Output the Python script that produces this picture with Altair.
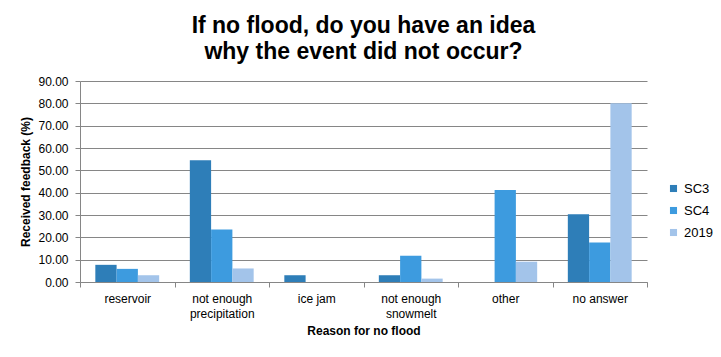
import altair as alt
import pandas as pd

categories = ["reservoir", "not enough precipitation", "ice jam",
              "not enough snowmelt", "other", "no answer"]
series = ["SC3", "SC4", "2019"]
sc3 = [7.69, 54.55, 3.03, 3.03, 0.0, 30.30]
sc4 = [5.88, 23.53, 0.0, 11.76, 41.18, 17.65]
y2019 = [3.03, 6.06, 0.0, 1.52, 9.09, 80.0]
colors = ["#2E7EB8", "#3D9BDF", "#A3C4EA"]
y_ticks = [0, 10, 20, 30, 40, 50, 60, 70, 80, 90]

rows = []
for s, vals in zip(series, [sc3, sc4, y2019]):
    for c, v in zip(categories, vals):
        rows.append({"Reason": c, "Series": s, "Value": v})
df = pd.DataFrame(rows)

label_expr = ("indexof(datum.label, 'not enough ') == 0 ? "
              "['not enough', substring(datum.label, 11)] : datum.label")

font = "Liberation Sans"

chart = alt.Chart(df).mark_bar().encode(
    x=alt.X("Reason:N", sort=categories,
            scale=alt.Scale(paddingInner=0, paddingOuter=0),
            axis=alt.Axis(title="Reason for no flood", labelAngle=0,
                          labelExpr=label_expr, tickBand="extent",
                          labelFontSize=12, labelFont=font, labelColor="#000",
                          labelPadding=6, labelLineHeight=15,
                          titleFont=font, titleFontSize=12, titleFontWeight="bold",
                          titleColor="#000", titlePadding=6,
                          domainColor="#868686", tickColor="#868686", tickSize=5,
                          grid=False)),
    xOffset=alt.XOffset("Series:N", sort=series,
                        scale=alt.Scale(paddingInner=0, paddingOuter=0.72)),
    y=alt.Y("Value:Q", scale=alt.Scale(domain=[0, 90], nice=False),
            axis=alt.Axis(title="Received feedback (%)", values=y_ticks,
                          format=".2f", labelFontSize=12, labelFont=font,
                          labelColor="#000", labelPadding=7,
                          titleFont=font, titleFontSize=12, titleFontWeight="bold",
                          titleColor="#000", titlePadding=5,
                          domainColor="#868686", tickColor="#868686", tickSize=5,
                          gridColor="#868686", gridWidth=1)),
    color=alt.Color("Series:N", sort=series,
                    scale=alt.Scale(domain=series, range=colors),
                    legend=alt.Legend(title=None, orient="none", legendX=587,
                                      legendY=101, symbolType="square",
                                      symbolSize=50, symbolStrokeWidth=0,
                                      labelFont=font, labelFontSize=13,
                                      labelColor="#000", rowPadding=8,
                                      labelOffset=4)),
).properties(
    width=567, height=201,
    title=alt.TitleParams(
        text=["If no flood, do you have an idea", "why the event did not occur?"],
        font=font, fontSize=23, fontWeight="bold", color="#000",
        lineHeight=26, anchor="middle", offset=11),
    autosize=alt.AutoSizeParams(type="none"),
    padding={"left": 72, "top": 73, "right": 66, "bottom": 60},
).configure_view(stroke=None)

chart.save("out.html", embed_options={"renderer": "svg", "actions": False})
